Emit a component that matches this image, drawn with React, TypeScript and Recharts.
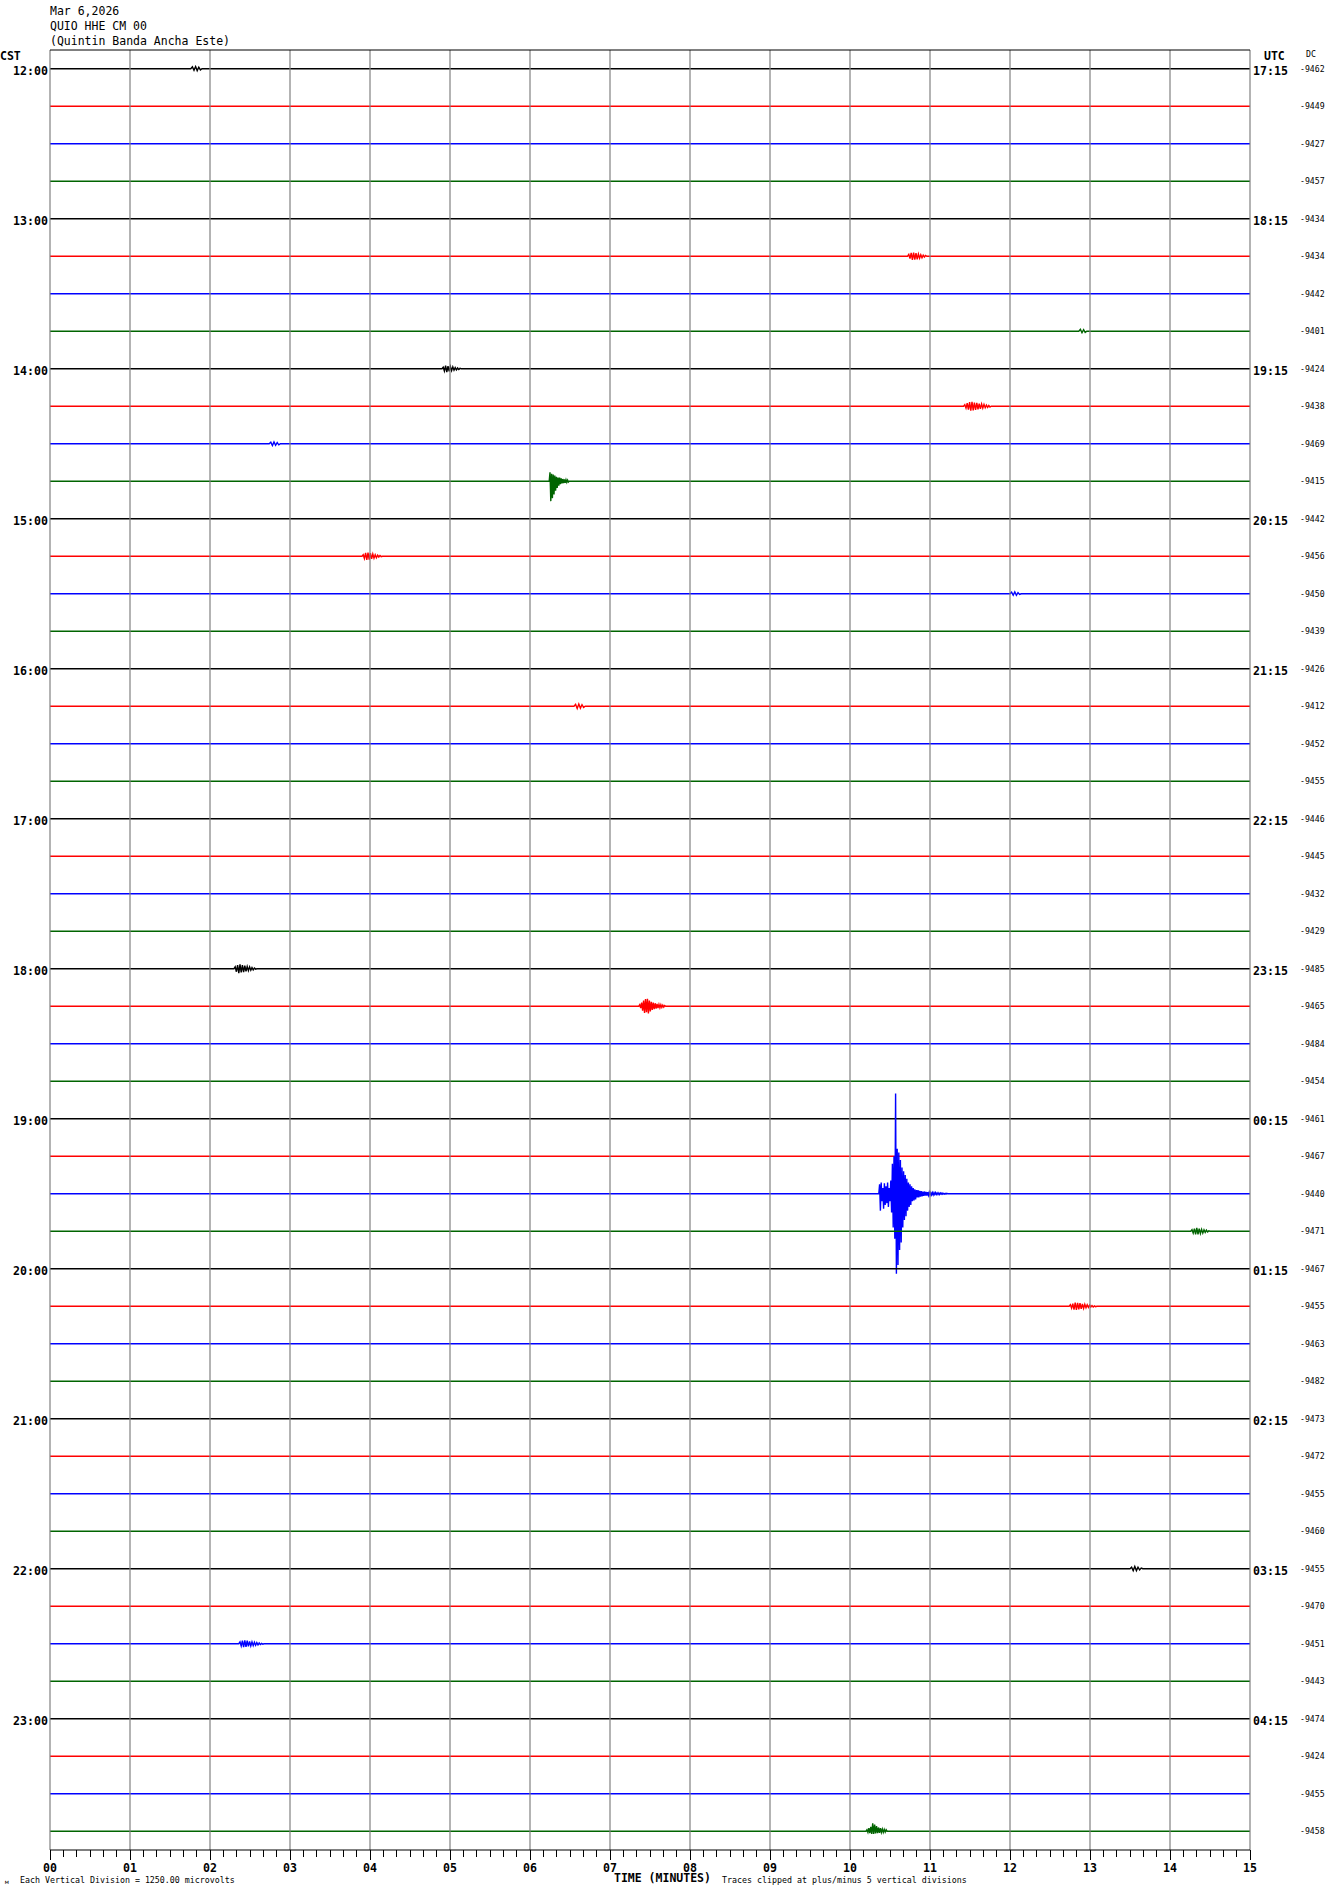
import React from "react";
import { LineChart, Line, XAxis, YAxis, ReferenceLine } from "recharts";

const titleLines = ["Mar 6,2026", "QUIO HHE CM 00", "(Quintin Banda Ancha Este)"];
const cstLabels = ["12:00", "13:00", "14:00", "15:00", "16:00", "17:00", "18:00", "19:00", "20:00", "21:00", "22:00", "23:00"];
const utcLabels = ["17:15", "18:15", "19:15", "20:15", "21:15", "22:15", "23:15", "00:15", "01:15", "02:15", "03:15", "04:15"];
const dcValues = [
  -9462, -9449, -9427, -9457, -9434, -9434, -9442, -9401, -9424, -9438, -9469, -9415,
  -9442, -9456, -9450, -9439, -9426, -9412, -9452, -9455, -9446, -9445, -9432, -9429,
  -9485, -9465, -9484, -9454, -9461, -9467, -9440, -9471, -9467, -9455, -9463, -9482,
  -9473, -9472, -9455, -9460, -9455, -9470, -9451, -9443, -9474, -9424, -9455, -9458,
];
const minuteLabels = ["00", "01", "02", "03", "04", "05", "06", "07", "08", "09", "10", "11", "12", "13", "14", "15"];
const traceColors = ["#000000", "#ff0000", "#0000ff", "#006400"];

type Burst = { row: number; start: number; step: number; amps: number[] };

const burstRow0: Burst = { row: 0, start: 1.76, step: 0.02, amps: [0, 0.05, -0.04, 0.06, -0.05, 0.04, -0.03, 0] };
const burstRow5: Burst = { row: 5, start: 10.72, step: 0.015, amps: [0, 0.05, -0.06, 0.09, -0.1, 0.1, -0.09, 0.08, -0.08, 0.06, -0.05, 0.04, -0.04, 0.03, -0.02, 0.02, 0] };
const burstRow7: Burst = { row: 7, start: 12.86, step: 0.02, amps: [0, 0.05, -0.04, 0.04, -0.03, 0] };
const burstRow8: Burst = { row: 8, start: 4.9, step: 0.015, amps: [0, 0.04, -0.06, 0.08, -0.09, 0.07, -0.07, 0.06, -0.05, 0.05, -0.04, 0.03, -0.03, 0.02, -0.02, 0.01, 0] };
const burstRow9: Burst = { row: 9, start: 11.42, step: 0.015, amps: [0, 0.04, -0.05, 0.08, -0.09, 0.11, -0.12, 0.12, -0.11, 0.1, -0.1, 0.09, -0.08, 0.07, -0.07, 0.06, -0.05, 0.05, -0.04, 0.03, -0.03, 0.02, -0.02, 0] };
const burstRow10: Burst = { row: 10, start: 2.74, step: 0.02, amps: [0, 0.04, -0.05, 0.05, -0.04, 0.03, -0.03, 0] };
const burstRow11: Burst = { row: 11, start: 6.24, step: 0.01, amps: [0, 0.24, -0.53, 0.2, -0.45, 0.18, -0.35, 0.15, -0.25, 0.12, -0.18, 0.1, -0.12, 0.1, -0.08, 0.08, -0.06, 0.06, -0.05, 0.05, -0.04, 0.04, -0.03, 0.03, -0.02, 0] };
const burstRow13: Burst = { row: 13, start: 3.9, step: 0.015, amps: [0, 0.04, -0.06, 0.09, -0.1, 0.1, -0.09, 0.08, -0.07, 0.06, -0.05, 0.04, -0.04, 0.03, -0.02, 0.02, -0.01, 0] };
const burstRow14: Burst = { row: 14, start: 12.0, step: 0.02, amps: [0, 0.04, -0.04, 0.05, -0.04, 0.03, -0.02, 0] };
const burstRow17: Burst = { row: 17, start: 6.55, step: 0.02, amps: [0, 0.05, -0.06, 0.06, -0.05, 0.04, -0.03, 0] };
const burstRow24: Burst = { row: 24, start: 2.3, step: 0.015, amps: [0, 0.05, -0.08, 0.1, -0.12, 0.12, -0.1, 0.1, -0.09, 0.08, -0.07, 0.06, -0.05, 0.05, -0.04, 0.03, -0.03, 0.02, -0.01, 0] };
const burstRow25: Burst = { row: 25, start: 7.36, step: 0.012, amps: [0, 0.04, -0.05, 0.1, -0.12, 0.15, -0.18, 0.19, -0.16, 0.2, -0.19, 0.15, -0.14, 0.12, -0.1, 0.1, -0.08, 0.08, -0.06, 0.06, -0.05, 0.05, -0.04, 0.04, -0.03, 0.03, -0.02, 0.02, 0] };
const burstRow30: Burst = {
  row: 30,
  start: 10.36,
  step: 0.01,
  amps: [
    0, 0.25, -0.45, 0.3, -0.2, 0.15, -0.4, 0.28, -0.3, 0.2, -0.25, 0.3, -0.35, 0.15, -0.2, 0.35, -0.5, 0.8, -0.9, 1.0,
    -1.2, 2.67, -2.13, 1.2, -1.9, 1.1, -1.5, 0.9, -1.3, 0.7, -0.9, 0.6, -0.7, 0.5, -0.6, 0.4, -0.45, 0.3, -0.35, 0.25,
    -0.3, 0.2, -0.2, 0.15, -0.18, 0.12, -0.15, 0.1, -0.1, 0.1, -0.1, 0.08, -0.08, 0.07, -0.07, 0.06, -0.06, 0.06, -0.05, 0.05,
    -0.05, 0.04, -0.04, 0.04, -0.04, 0.03, -0.03, 0.03, -0.03, 0.03, -0.02, 0.03, -0.02, 0.02, -0.02, 0.02, -0.02, 0.02, -0.01, 0.02,
    -0.01, 0.01, -0.01, 0.01, -0.01, 0.01, 0,
  ],
};
const burstRow31: Burst = { row: 31, start: 14.26, step: 0.015, amps: [0, 0.04, -0.05, 0.07, -0.08, 0.09, -0.08, 0.07, -0.06, 0.05, -0.05, 0.04, -0.03, 0.03, -0.02, 0.01, 0] };
const burstRow33: Burst = { row: 33, start: 12.74, step: 0.015, amps: [0, 0.04, -0.05, 0.07, -0.09, 0.1, -0.1, 0.09, -0.08, 0.08, -0.07, 0.06, -0.06, 0.05, -0.04, 0.04, -0.03, 0.03, -0.02, 0.02, -0.02, 0.01, -0.01, 0] };
const burstRow40: Burst = { row: 40, start: 13.5, step: 0.02, amps: [0, 0.04, -0.05, 0.06, -0.05, 0.04, -0.03, 0.02, 0] };
const burstRow42: Burst = { row: 42, start: 2.36, step: 0.015, amps: [0, 0.05, -0.06, 0.08, -0.09, 0.09, -0.08, 0.08, -0.07, 0.06, -0.06, 0.05, -0.05, 0.04, -0.04, 0.03, -0.03, 0.02, -0.02, 0.01, -0.01, 0] };
const burstRow47: Burst = { row: 47, start: 10.2, step: 0.012, amps: [0, 0.04, -0.03, 0.08, -0.05, 0.12, -0.07, 0.21, -0.07, 0.18, -0.06, 0.14, -0.05, 0.1, -0.04, 0.08, -0.03, 0.06, -0.03, 0.05, -0.02, 0.04, 0] };

const bursts: Burst[] = [
  burstRow0, burstRow5, burstRow7, burstRow8, burstRow9, burstRow10, burstRow11, burstRow13, burstRow14,
  burstRow17, burstRow24, burstRow25, burstRow30, burstRow31, burstRow33, burstRow40, burstRow42, burstRow47,
];

const ROWS = dcValues.length;
const MINUTES = minuteLabels.length - 1;

function buildTrace(row: number) {
  const pts: { x: number; y: number }[] = [{ x: 0, y: -row }];
  bursts
    .filter((b) => b.row === row)
    .sort((a, b) => a.start - b.start)
    .forEach((b) => {
      b.amps.forEach((a, i) => pts.push({ x: b.start + i * b.step, y: -row + a }));
    });
  pts.push({ x: MINUTES, y: -row });
  return pts;
}

const traces = Array.from({ length: ROWS }, (_, r) => buildTrace(r));
const xTicks = Array.from({ length: MINUTES * 6 + 1 }, (_, i) => i / 6);
const minuteTicks = minuteLabels.map((_, i) => i);
const leftTicks = cstLabels.map((_, i) => -i * 4);
const rightTicks = dcValues.map((_, i) => -i);

const mono = "'DejaVu Sans Mono', 'Liberation Mono', monospace";

const XTick = (props: any) => {
  const { x, y, payload } = props;
  const v = payload.value as number;
  const idx = Math.round(v);
  const major = Math.abs(v - idx) < 1e-6;
  return (
    <g>
      <line x1={x} y1={y} x2={x} y2={y + (major ? 10 : 7)} stroke="#000" strokeWidth={1} shapeRendering="crispEdges" />
      {major && (
        <text x={x} y={y + 18} textAnchor="middle" dominantBaseline="central" fontFamily={mono} fontWeight="bold" fontSize={11.6} fill="#000">
          {minuteLabels[idx]}
        </text>
      )}
    </g>
  );
};

const LeftTick = (props: any) => {
  const { x, y, payload } = props;
  const idx = Math.round(-payload.value / 4);
  return (
    <text x={x - 2} y={y + 2} textAnchor="end" dominantBaseline="central" fontFamily={mono} fontWeight="bold" fontSize={11.6} fill="#000">
      {cstLabels[idx]}
    </text>
  );
};

const RightTick = (props: any) => {
  const { x, y, payload } = props;
  const row = Math.round(-payload.value);
  const hourly = row % 4 === 0;
  return (
    <g>
      {hourly && (
        <text x={x + 3} y={y + 2} textAnchor="start" dominantBaseline="central" fontFamily={mono} fontWeight="bold" fontSize={11.6} fill="#000">
          {utcLabels[row / 4]}
        </text>
      )}
      <text x={x + 50} y={y} textAnchor="start" dominantBaseline="central" fontFamily={mono} fontSize={8.2} fill="#000">
        {dcValues[row]}
      </text>
    </g>
  );
};

const Label = ({ x, y, size, bold, children }: any) => (
  <div
    style={{
      position: "absolute",
      left: x,
      top: y,
      transform: "translateY(-50%)",
      fontFamily: mono,
      fontSize: size,
      fontWeight: bold ? "bold" : "normal",
      lineHeight: 1,
      whiteSpace: "pre",
      color: "#000",
    }}
  >
    {children}
  </div>
);

export default function App() {
  return (
    <div style={{ position: "absolute", left: 0, top: 0, width: 1330, height: 1894, background: "#fff" }}>
      <LineChart width={1330} height={1894} margin={{ top: 50, right: 0, bottom: 0, left: 0 }}>
        <XAxis
          xAxisId="x"
          type="number"
          dataKey="x"
          domain={[0, MINUTES]}
          ticks={xTicks}
          interval={0}
          allowDataOverflow
          tickSize={0}
          tickMargin={0}
          tick={<XTick />}
          axisLine={{ stroke: "#000", strokeWidth: 1 }}
          height={44}
        />
        <YAxis
          yAxisId="left"
          type="number"
          domain={[-(ROWS - 0.5), 0.5]}
          ticks={leftTicks}
          interval={0}
          allowDataOverflow
          width={50}
          axisLine={false}
          tickSize={0}
          tickMargin={0}
          tick={<LeftTick />}
        />
        <YAxis
          yAxisId="right"
          orientation="right"
          type="number"
          domain={[-(ROWS - 0.5), 0.5]}
          ticks={rightTicks}
          interval={0}
          allowDataOverflow
          width={80}
          axisLine={false}
          tickSize={0}
          tickMargin={0}
          tick={<RightTick />}
        />
        {traces.map((data, r) => (
          <Line
            key={r}
            xAxisId="x"
            yAxisId="left"
            data={data}
            dataKey="y"
            type="linear"
            stroke={traceColors[r % 4]}
            strokeWidth={1.4}
            dot={false}
            activeDot={false}
            isAnimationActive={false}
          />
        ))}
        {minuteTicks.map((m) => (
          <ReferenceLine key={"g" + m} xAxisId="x" yAxisId="left" x={m} stroke="#808080" strokeWidth={1.2} />
        ))}
        <ReferenceLine xAxisId="x" yAxisId="left" y={0.5} stroke="#000" strokeWidth={1} />
      </LineChart>

      {titleLines.map((t, i) => (
        <Label key={t} x={50} y={12 + i * 15} size={11.5}>
          {t}
        </Label>
      ))}
      <Label x={0} y={57} size={11.5} bold>
        CST
      </Label>
      <Label x={1264} y={57} size={11.5} bold>
        UTC
      </Label>
      <Label x={1306} y={54} size={8.2}>
        DC
      </Label>
      <Label x={5} y={1882} size={6}>
        м
      </Label>
      <Label x={20} y={1880} size={8.3}>
        Each Vertical Division = 1250.00 microvolts
      </Label>
      <Label x={614} y={1879} size={11.5} bold>
        TIME (MINUTES)
      </Label>
      <Label x={722} y={1880} size={8.3}>
        Traces clipped at plus/minus 5 vertical divisions
      </Label>
    </div>
  );
}
